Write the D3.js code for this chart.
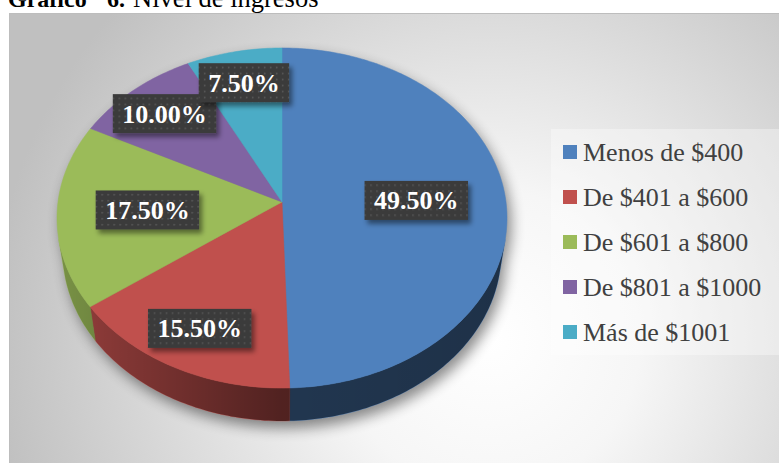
<!DOCTYPE html>
<html>
<head>
<meta charset="utf-8">
<script src="https://cdn.jsdelivr.net/npm/d3@7"></script>
<style>
  body { margin: 0; background: #fff; }
  svg { display: block; }
</style>
</head>
<body>
<div id="chart"></div>
<script>
// chart data
const categories = ['Menos de $400', 'De $401 a $600', 'De $601 a $800', 'De $801 a $1000', 'Más de $1001'];
const shares = [49.5, 15.5, 17.5, 10.0, 7.5];
const labels = ['49.50%', '15.50%', '17.50%', '10.00%', '7.50%'];
const colors = ['#4f81bd', '#c0504d', '#9bbb59', '#8064a2', '#4bacc6'];

const w = 779;
const h = 463;

// 3d pie geometry (perspective)
const cx = 282, cy = 202;
const A = 224;                 // px per radius at centre depth
const tilt = 48.8 * Math.PI / 180;
const k = 0.143;               // radius / camera distance
const thick = 0.24;            // side height in radius units

function project(r, phi, z) {
  const dep = 1 - k * z * Math.sin(tilt) + k * r * Math.cos(phi) * Math.cos(tilt);
  return [
    cx + A * r * Math.sin(phi) / dep,
    cy - A * (z * Math.cos(tilt) + r * Math.cos(phi) * Math.sin(tilt)) / dep
  ];
}

function arcPts(a0, a1, z) {
  const n = Math.max(2, Math.ceil(Math.abs(a1 - a0) / (Math.PI / 180)));
  const pts = [];
  for (let i = 0; i <= n; i++) pts.push(project(1, a0 + (a1 - a0) * i / n, z));
  return pts;
}

const line = d3.line();

const svg = d3.select('#chart')
  .append('svg')
  .attr('width', w)
  .attr('height', h);

const defs = svg.append('defs');

const bg = defs.append('radialGradient')
  .attr('id', 'bg')
  .attr('gradientUnits', 'userSpaceOnUse')
  .attr('cx', 490).attr('cy', 340).attr('r', 500);
bg.append('stop').attr('offset', 0).attr('stop-color', '#ffffff');
bg.append('stop').attr('offset', 0.3).attr('stop-color', '#f6f6f6');
bg.append('stop').attr('offset', 1).attr('stop-color', '#c0c0c0');

const shade = defs.append('linearGradient')
  .attr('id', 'wallShade')
  .attr('gradientUnits', 'userSpaceOnUse')
  .attr('x1', cx - A).attr('x2', cx + A).attr('y1', 0).attr('y2', 0);
shade.append('stop').attr('offset', 0).attr('stop-color', '#000').attr('stop-opacity', 0.22);
shade.append('stop').attr('offset', 0.5).attr('stop-color', '#000').attr('stop-opacity', 0.58);
shade.append('stop').attr('offset', 1).attr('stop-color', '#000').attr('stop-opacity', 0.62);

defs.append('filter')
  .attr('id', 'pieShadow')
  .attr('x', '-20%').attr('y', '-20%').attr('width', '140%').attr('height', '140%')
  .append('feGaussianBlur').attr('stdDeviation', 7);

const ds = defs.append('filter')
  .attr('id', 'boxShadow')
  .attr('x', '-20%').attr('y', '-30%').attr('width', '150%').attr('height', '170%');
ds.append('feDropShadow')
  .attr('dx', 3).attr('dy', 4).attr('stdDeviation', 2.5)
  .attr('flood-color', '#000').attr('flood-opacity', 0.45);

const pat = defs.append('pattern')
  .attr('id', 'dots')
  .attr('patternUnits', 'userSpaceOnUse')
  .attr('width', 6).attr('height', 6);
pat.append('rect').attr('width', 6).attr('height', 6).attr('fill', '#3b3b3b');
pat.append('rect').attr('x', 2).attr('y', 2).attr('width', 1.5).attr('height', 1.5).attr('fill', '#5a5a5a');

// title (cut off at top like the source)
const title = svg.append('text')
  .attr('y', 7)
  .style('font-family', '"Liberation Serif", "Times New Roman", serif')
  .attr('fill', '#000');
title.append('tspan').attr('x', 8).style('font-weight', 'bold').style('font-size', '24px').text('Gráfico');
title.append('tspan').attr('x', 107).style('font-weight', 'bold').style('font-size', '24px').text('6.');
title.append('tspan').attr('x', 133).style('font-size', '26.5px').text('Nivel de ingresos');

// chart area
svg.append('rect')
  .attr('x', 9.5).attr('y', 13.5)
  .attr('width', w).attr('height', h)
  .attr('fill', 'url(#bg)')
  .attr('stroke', '#bdbdbd')
  .attr('stroke-width', 1);

const pie = d3.pie().sort(null).value(d => d);
const arcs = pie(shares);

// soft shadow under the pie
const shadowG = svg.append('g')
  .attr('filter', 'url(#pieShadow)')
  .attr('opacity', 0.45)
  .attr('transform', 'translate(4,7)');
shadowG.append('path')
  .attr('d', line(arcPts(0, 2 * Math.PI, 0)) + 'Z')
  .attr('fill', '#000');
shadowG.append('path')
  .attr('d', line(arcPts(0, 2 * Math.PI, -thick)) + 'Z')
  .attr('fill', '#000');

// visible part of the side wall
const phiMin = Math.acos(-k / Math.cos(tilt));
const phiMax = 2 * Math.PI - phiMin;

const walls = arcs.map((a, i) => {
  const a0 = Math.max(a.startAngle, phiMin);
  const a1 = Math.min(a.endAngle, phiMax);
  if (a1 <= a0) return null;
  const top = arcPts(a0, a1, 0);
  const bot = arcPts(a1, a0, -thick);
  return { i: i, d: line(top.concat(bot)) + 'Z' };
}).filter(d => d);

svg.selectAll('path.wall')
  .data(walls)
  .enter()
  .append('path')
  .attr('class', 'wall')
  .attr('d', d => d.d)
  .attr('fill', d => colors[d.i])
  .attr('stroke', d => colors[d.i])
  .attr('stroke-width', 0.5);

svg.selectAll('path.wallshade')
  .data(walls)
  .enter()
  .append('path')
  .attr('class', 'wallshade')
  .attr('d', d => d.d)
  .attr('fill', 'url(#wallShade)');

// top faces
svg.selectAll('path.slice')
  .data(arcs)
  .enter()
  .append('path')
  .attr('class', 'slice')
  .attr('d', a => line([[cx, cy]].concat(arcPts(a.startAngle, a.endAngle, 0))) + 'Z')
  .attr('fill', (a, i) => colors[i])
  .attr('stroke', (a, i) => colors[i])
  .attr('stroke-width', 0.5);

// data labels
const lab = svg.selectAll('g.lab')
  .data(arcs)
  .enter()
  .append('g')
  .attr('class', 'lab')
  .attr('transform', a => {
    const mid = (a.startAngle + a.endAngle) / 2;
    const r = (a.endAngle - a.startAngle) / (2 * Math.PI) > 0.16 ? 0.6 : 0.78;
    const p = project(r, mid, 0);
    return 'translate(' + p[0] + ',' + p[1] + ')';
  });

lab.append('rect')
  .attr('fill', 'url(#dots)')
  .attr('filter', 'url(#boxShadow)');

lab.append('text')
  .attr('text-anchor', 'middle')
  .attr('y', 9)
  .style('font-family', '"Liberation Serif", "Times New Roman", serif')
  .style('font-weight', 'bold')
  .style('font-size', '26px')
  .attr('fill', '#fff')
  .text((a, i) => labels[i]);

lab.each(function () {
  const g = d3.select(this);
  const tw = g.select('text').node().getComputedTextLength();
  const bw = tw + 19;
  g.select('rect')
    .attr('x', -bw / 2).attr('y', -19.5)
    .attr('width', bw).attr('height', 39);
});

// legend
const lx = 551, ly = 129;
svg.append('rect')
  .attr('x', lx).attr('y', ly)
  .attr('width', 228).attr('height', 226)
  .attr('fill', '#fff')
  .attr('fill-opacity', 0.35);

const leg = svg.selectAll('g.leg')
  .data(categories)
  .enter()
  .append('g')
  .attr('class', 'leg')
  .attr('transform', (d, i) => 'translate(' + (lx + 12) + ',' + (ly + 23 + i * 45) + ')');

leg.append('rect')
  .attr('x', 0).attr('y', -7)
  .attr('width', 14).attr('height', 14)
  .attr('fill', (d, i) => colors[i]);

leg.append('text')
  .attr('x', 20)
  .attr('y', 9)
  .style('font-family', '"Liberation Serif", "Times New Roman", serif')
  .style('font-size', '26px')
  .attr('fill', '#404040')
  .text(d => d);
</script>
</body>
</html>
